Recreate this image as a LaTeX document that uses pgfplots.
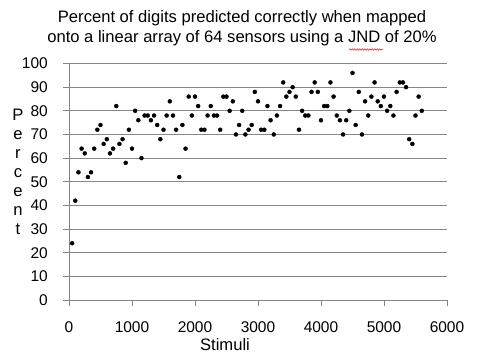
\documentclass[border=0pt]{standalone}
\usepackage{fontspec}
\setmainfont{Liberation Sans}
\usepackage{pgfplots}
\pgfplotsset{compat=1.18}
\usetikzlibrary{decorations.pathmorphing}
\definecolor{gridgray}{RGB}{134,134,134}
\begin{document}
\begin{tikzpicture}[x=1pt,y=1pt]
\useasboundingbox (0,0) rectangle (479,359);
\begin{axis}[
  at={(69pt,59pt)}, anchor=south west,
  scale only axis, width=378pt, height=236.5pt,
  xmin=0, xmax=6000, ymin=0, ymax=100,
  xtick={0,1000,...,6000}, ytick={0,10,...,100},
  ymajorgrids, grid style={color=gridgray, line width=0.8pt},
  axis x line*=bottom, axis y line*=left,
  axis line style={-, gridgray, line width=0.8pt},
  tick align=outside, major tick length=6pt,
  tick style={gridgray, line width=0.8pt},
  ticklabel style={font=\fontsize{15.5}{18}\selectfont, text=black},
  /pgf/number format/assume math mode=true,
  /pgf/number format/1000 sep={},
  scaled ticks=false,
  xticklabel style={anchor=north, inner sep=0pt, yshift=-15pt},
  yticklabel style={anchor=east, inner sep=0pt, xshift=-15pt},
  clip=false,
]
\addplot[only marks, mark=*, mark size=2pt, black] coordinates {
(50,24)(100,42)(150,54)(200,64)(250,62)(300,52)(350,54)(400,64)(450,72)(500,74)
(550,66)(600,68)(650,62)(700,64)(750,82)(800,66)(850,68)(900,58)(950,72)(1000,64)
(1050,80)(1100,76)(1150,60)(1200,78)(1250,78)(1300,76)(1350,78)(1400,74)(1450,68)(1500,72)
(1550,78)(1600,84)(1650,78)(1700,72)(1750,52)(1800,74)(1850,64)(1900,86)(1950,78)(2000,86)
(2050,82)(2100,72)(2150,72)(2200,78)(2250,82)(2300,78)(2350,78)(2400,72)(2450,86)(2500,86)
(2550,80)(2600,84)(2650,70)(2700,74)(2750,80)(2800,70)(2850,72)(2900,74)(2950,88)(3000,84)
(3050,72)(3100,72)(3150,82)(3200,76)(3250,70)(3300,78)(3350,82)(3400,92)(3450,86)(3500,88)
(3550,90)(3600,86)(3650,72)(3700,80)(3750,78)(3800,78)(3850,88)(3900,92)(3950,88)(4000,76)
(4050,82)(4100,82)(4150,92)(4200,86)(4250,78)(4300,76)(4350,70)(4400,76)(4450,80)(4500,96)
(4550,74)(4600,88)(4650,70)(4700,84)(4750,78)(4800,86)(4850,92)(4900,84)(4950,82)(5000,86)
(5050,80)(5100,82)(5150,78)(5200,88)(5250,92)(5300,92)(5350,90)(5400,68)(5450,66)(5500,78)
(5550,86)(5600,80)
};
\end{axis}
\node[anchor=base, font=\fontsize{16.6}{18}\selectfont] at (242,336) {Percent of digits predicted correctly when mapped};
\node[anchor=base, font=\fontsize{16.6}{18}\selectfont] at (242,316) {onto a linear array of 64 sensors using a JND of 20\%};
\draw[red, line width=0.5pt, decorate, decoration={snake, amplitude=0.7pt, segment length=2.5pt}] (349,309.5) -- (383,309.5);
\node[anchor=base, font=\fontsize{16.6}{18}\selectfont] at (225,9) {Stimuli};
\node[align=center, font=\fontsize{16.6}{19}\selectfont, inner sep=0pt] at (18,187) {P\\e\\r\\c\\e\\n\\t};
\end{tikzpicture}
\end{document}
